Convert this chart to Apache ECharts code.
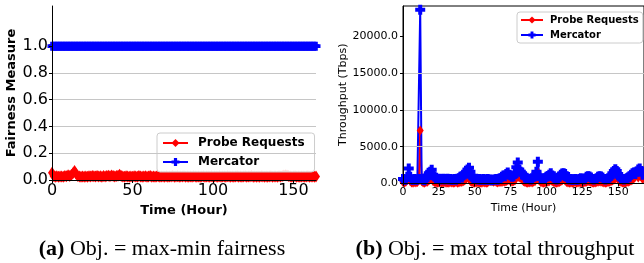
<!DOCTYPE html>
<html>
<head>
<meta charset="utf-8">
<script src="https://cdn.jsdelivr.net/npm/echarts@6/dist/echarts.min.js"></script>
<style>
  html, body { margin: 0; padding: 0; background: #fff; }
  #main { width: 644px; height: 263px; }
</style>
</head>
<body>
<div id="main"></div>
<script>
// (a) fairness per hour
var fairProbe = [
  0.055, 0.030, 0.025, 0.028, 0.024, 0.026, 0.027, 0.025, 0.030, 0.028, 0.035, 0.030,
  0.038, 0.050, 0.068, 0.045, 0.030, 0.026, 0.024, 0.027, 0.025, 0.026, 0.024, 0.028,
  0.026, 0.030, 0.028, 0.027, 0.030, 0.026, 0.028, 0.025, 0.029, 0.027, 0.030, 0.032,
  0.028, 0.034, 0.030, 0.026, 0.029, 0.031, 0.040, 0.030, 0.027, 0.025, 0.028, 0.026,
  0.025, 0.027, 0.024, 0.028, 0.026, 0.025, 0.029, 0.026, 0.024, 0.027, 0.028, 0.025,
  0.026, 0.030, 0.025, 0.027, 0.024, 0.026, 0.028, 0.025, 0.027, 0.026, 0.024, 0.028,
  0.025, 0.027, 0.026, 0.029, 0.024, 0.026, 0.028, 0.025, 0.027, 0.026, 0.028, 0.025,
  0.026, 0.024, 0.027, 0.025, 0.028, 0.026, 0.025, 0.027, 0.024, 0.026, 0.028, 0.025,
  0.027, 0.026, 0.024, 0.028, 0.025, 0.027, 0.026, 0.025, 0.028, 0.024, 0.026, 0.027,
  0.025, 0.028, 0.026, 0.024, 0.027, 0.025, 0.026, 0.028, 0.025, 0.027, 0.024, 0.026,
  0.028, 0.025, 0.027, 0.026, 0.029, 0.025, 0.026, 0.024, 0.027, 0.025, 0.028, 0.026,
  0.025, 0.027, 0.024, 0.026, 0.028, 0.025, 0.027, 0.026, 0.025, 0.028, 0.026, 0.030,
  0.033, 0.036, 0.034, 0.030, 0.027, 0.025, 0.026, 0.028, 0.025, 0.027, 0.024, 0.026,
  0.027, 0.025, 0.026, 0.028, 0.025, 0.027, 0.026, 0.024, 0.027, 0.025, 0.028, 0.026
];
var fairMercator = [
  1.0, 1.0, 1.0, 1.0, 1.0, 1.0, 1.0, 1.0, 1.0, 1.0, 1.0, 1.0,
  1.0, 1.0, 1.0, 1.0, 1.0, 1.0, 1.0, 1.0, 1.0, 1.0, 1.0, 1.0,
  1.0, 1.0, 1.0, 1.0, 1.0, 1.0, 1.0, 1.0, 1.0, 1.0, 1.0, 1.0,
  1.0, 1.0, 1.0, 1.0, 1.0, 1.0, 1.0, 1.0, 1.0, 1.0, 1.0, 1.0,
  1.0, 1.0, 1.0, 1.0, 1.0, 1.0, 1.0, 1.0, 1.0, 1.0, 1.0, 1.0,
  1.0, 1.0, 1.0, 1.0, 1.0, 1.0, 1.0, 1.0, 1.0, 1.0, 1.0, 1.0,
  1.0, 1.0, 1.0, 1.0, 1.0, 1.0, 1.0, 1.0, 1.0, 1.0, 1.0, 1.0,
  1.0, 1.0, 1.0, 1.0, 1.0, 1.0, 1.0, 1.0, 1.0, 1.0, 1.0, 1.0,
  1.0, 1.0, 1.0, 1.0, 1.0, 1.0, 1.0, 1.0, 1.0, 1.0, 1.0, 1.0,
  1.0, 1.0, 1.0, 1.0, 1.0, 1.0, 1.0, 1.0, 1.0, 1.0, 1.0, 1.0,
  1.0, 1.0, 1.0, 1.0, 1.0, 1.0, 1.0, 1.0, 1.0, 1.0, 1.0, 1.0,
  1.0, 1.0, 1.0, 1.0, 1.0, 1.0, 1.0, 1.0, 1.0, 1.0, 1.0, 1.0,
  1.0, 1.0, 1.0, 1.0, 1.0, 1.0, 1.0, 1.0, 1.0, 1.0, 1.0, 1.0,
  1.0, 1.0, 1.0, 1.0, 1.0, 1.0, 1.0, 1.0, 1.0, 1.0, 1.0, 1.0
];

// (b) throughput per hour (Tbps)
var tputProbe = [
  200, 150, 250, 500, 1000, 300, 150, 100, 200, 150, 200, 400,
  7200, 300, 150, 100, 200, 250, 400, 700, 1000, 300, 200, 150,
  100, 150, 200, 100, 150, 200, 100, 150, 100, 200, 150, 100,
  150, 200, 100, 150, 250, 200, 300, 400, 600, 1000, 700, 300,
  200, 150, 100, 150, 200, 100, 150, 100, 200, 150, 100, 150,
  300, 350, 300, 250, 300, 200, 150, 200, 250, 200, 300, 250,
  350, 450, 500, 300, 250, 300, 400, 900, 1300, 800, 1100, 500,
  300, 200, 150, 100, 150, 200, 150, 250, 300, 700, 1500, 400,
  200, 150, 100, 150, 200, 250, 300, 500, 300, 200, 150, 100,
  150, 200, 300, 450, 600, 400, 200, 150, 100, 150, 100, 150,
  200, 100, 150, 200, 150, 100, 150, 200, 250, 300, 300, 200,
  150, 100, 150, 200, 250, 300, 250, 200, 150, 100, 150, 200,
  250, 300, 400, 500, 700, 900, 500, 300, 200, 150, 100, 150,
  200, 250, 300, 400, 500, 700, 900, 1200, 800, 1400, 1000, 600
];
var tputMercator = [
  600, 500, 550, 900, 2050, 900, 550, 500, 600, 500, 550, 600,
  23600, 600, 500, 450, 700, 1100, 1400, 1600, 1850, 1200, 900, 700,
  600, 650, 550, 600, 650, 550, 600, 650, 550, 600, 500, 550,
  600, 500, 650, 700, 900, 800, 1100, 1400, 1600, 1900, 2150, 1600,
  900, 700, 600, 650, 550, 600, 500, 550, 600, 500, 550, 600,
  500, 550, 450, 500, 550, 600, 500, 650, 700, 900, 1100, 1000,
  1300, 1500, 1200, 1100, 900, 1000, 1300, 2200, 2850, 1900, 1600, 1400,
  1200, 800, 700, 600, 650, 550, 700, 900, 1000, 1600, 2950, 1100,
  700, 600, 650, 700, 900, 1000, 1200, 1400, 1100, 800, 600, 550,
  700, 900, 1200, 1350, 1400, 1300, 900, 600, 550, 600, 500, 550,
  600, 500, 550, 600, 700, 600, 550, 700, 900, 1000, 950, 800,
  600, 550, 600, 700, 900, 1000, 950, 800, 600, 550, 600, 650,
  800, 1100, 1400, 1700, 1950, 1700, 1300, 900, 700, 600, 550, 600,
  700, 800, 900, 1200, 1400, 1500, 1300, 1600, 1900, 2050, 1700, 1200
];

var xTicksA = [0, 50, 100, 150];
var yTicksA = [0, 0.2, 0.4, 0.6, 0.8, 1.0];
var xTicksB = [0, 25, 50, 75, 100, 125, 150];
var yTicksB = [0, 5000, 10000, 15000, 20000];

function pairs(arr) {
  return arr.map(function (v, i) { return [i, v]; });
}

var plusSym = 'path://M3,0H7V3H10V7H7V10H3V7H0V3H3Z';
var RED = '#ff0000', BLUE = '#0000ff', GRID = '#c6c6c6';
var FONT = 'DejaVu Sans';

var chart = echarts.init(document.getElementById('main'), null, { renderer: 'canvas' });

var option = {
  animation: false,
  backgroundColor: '#fff',
  textStyle: { fontFamily: FONT, color: '#000' },
  grid: [
    { left: 52, top: 6, width: 264, height: 174 },
    { left: 403, top: 6, width: 243, height: 177.5, show: true, borderColor: '#000', borderWidth: 1, backgroundColor: 'transparent' }
  ],
  legend: [
    {
      left: 157, top: 133, orient: 'vertical',
      data: ['Probe Requests', 'Mercator'],
      itemWidth: 25, itemHeight: 10, itemGap: 7,
      padding: [4, 10, 4, 5],
      backgroundColor: 'rgba(255,255,255,0.85)', borderColor: '#cccccc', borderWidth: 1, borderRadius: 3,
      textStyle: { fontFamily: FONT, fontWeight: 'bold', fontSize: 12, color: '#000', padding: [0, 0, 0, 5] }
    },
    {
      left: 517, top: 12, orient: 'vertical',
      data: ['Probe Requests', 'Mercator'],
      itemWidth: 22, itemHeight: 9, itemGap: 5,
      padding: [3, 4, 3, 3],
      backgroundColor: 'rgba(255,255,255,0.85)', borderColor: '#cccccc', borderWidth: 1, borderRadius: 3,
      textStyle: { fontFamily: FONT, fontWeight: 'bold', fontSize: 10, color: '#000', padding: [0, 0, 0, 2] }
    }
  ],
  xAxis: [
    {
      gridIndex: 0, type: 'value', min: 0, max: 164, z: 5,
      name: 'Time (Hour)', nameLocation: 'middle', nameGap: 20,
      nameTextStyle: { fontFamily: FONT, fontWeight: 'bold', fontSize: 13, color: '#000' },
      axisLine: { lineStyle: { color: '#000', width: 1 } },
      axisTick: { show: true, length: 3, customValues: xTicksA, lineStyle: { color: '#000' } },
      axisLabel: { customValues: xTicksA, fontSize: 16, color: '#000', margin: 3, fontFamily: FONT },
      splitLine: { show: false }
    },
    {
      gridIndex: 1, type: 'value', min: 0, max: 168, z: 5,
      name: 'Time (Hour)', nameLocation: 'middle', nameGap: 18,
      nameTextStyle: { fontFamily: FONT, fontSize: 11, color: '#000' },
      axisLine: { lineStyle: { color: '#000', width: 1 } },
      axisTick: { show: true, length: 3, customValues: xTicksB, lineStyle: { color: '#000' } },
      axisLabel: { customValues: xTicksB, fontSize: 11, color: '#000', margin: 3, fontFamily: FONT },
      splitLine: { show: false }
    }
  ],
  yAxis: [
    {
      gridIndex: 0, type: 'value', min: 0, max: 1.3, interval: 0.2, z: 5,
      name: 'Fairness Measure', nameLocation: 'middle', nameGap: 34,
      nameTextStyle: { fontFamily: FONT, fontWeight: 'bold', fontSize: 13, color: '#000' },
      axisLine: { show: true, lineStyle: { color: '#000', width: 1 } },
      axisTick: { show: true, length: 3, customValues: yTicksA, lineStyle: { color: '#000' } },
      axisLabel: {
        customValues: yTicksA, fontSize: 16, color: '#000', margin: 4, fontFamily: FONT,
        formatter: function (v) { return v.toFixed(1); }
      },
      splitLine: {
        show: true, showMinLine: false, showMaxLine: false,
        lineStyle: { color: [GRID, GRID, GRID, GRID, GRID, 'rgba(0,0,0,0)'], width: 1 }
      }
    },
    {
      gridIndex: 1, type: 'value', min: 0, max: 24100, interval: 5000, z: 5,
      name: 'Throughput (Tbps)', nameLocation: 'middle', nameGap: 52,
      nameTextStyle: { fontFamily: FONT, fontSize: 11, color: '#000' },
      axisLine: { show: true, lineStyle: { color: '#000', width: 1 } },
      axisTick: { show: true, length: 3, customValues: yTicksB, lineStyle: { color: '#000' } },
      axisLabel: {
        customValues: yTicksB, fontSize: 11, color: '#000', margin: 5, fontFamily: FONT,
        formatter: function (v) { return v.toFixed(1); }
      },
      splitLine: { show: true, showMinLine: false, showMaxLine: false, lineStyle: { color: GRID, width: 1 } }
    }
  ],
  series: [
    {
      name: 'Probe Requests', type: 'line', xAxisIndex: 0, yAxisIndex: 0,
      data: pairs(fairProbe), symbol: 'diamond', symbolSize: [8, 12],
      lineStyle: { color: RED, width: 2 }, itemStyle: { color: RED }
    },
    {
      name: 'Mercator', type: 'line', xAxisIndex: 0, yAxisIndex: 0,
      data: pairs(fairMercator), symbol: plusSym, symbolSize: 9,
      lineStyle: { color: BLUE, width: 2 }, itemStyle: { color: BLUE }
    },
    {
      name: 'Probe Requests', type: 'line', xAxisIndex: 1, yAxisIndex: 1,
      data: pairs(tputProbe), symbol: 'diamond', symbolSize: [7, 10],
      lineStyle: { color: RED, width: 2 }, itemStyle: { color: RED }
    },
    {
      name: 'Mercator', type: 'line', xAxisIndex: 1, yAxisIndex: 1,
      data: pairs(tputMercator), symbol: plusSym, symbolSize: 10,
      lineStyle: { color: BLUE, width: 2 }, itemStyle: { color: BLUE }
    }
  ],
  graphic: [
    {
      type: 'text', x: 162, y: 249,
      style: {
        text: '{b|(a)}{r| Obj. = max-min fairness}',
        textAlign: 'center', textVerticalAlign: 'middle',
        rich: {
          b: { fontFamily: 'Liberation Serif', fontSize: 22, fontWeight: 'bold', fill: '#000' },
          r: { fontFamily: 'Liberation Serif', fontSize: 22, fill: '#000' }
        }
      }
    },
    {
      type: 'text', x: 495, y: 249,
      style: {
        text: '{b|(b)}{r| Obj. = max total throughput}',
        textAlign: 'center', textVerticalAlign: 'middle',
        rich: {
          b: { fontFamily: 'Liberation Serif', fontSize: 22, fontWeight: 'bold', fill: '#000' },
          r: { fontFamily: 'Liberation Serif', fontSize: 22, fill: '#000' }
        }
      }
    }
  ]
};

chart.setOption(option);
</script>
</body>
</html>
